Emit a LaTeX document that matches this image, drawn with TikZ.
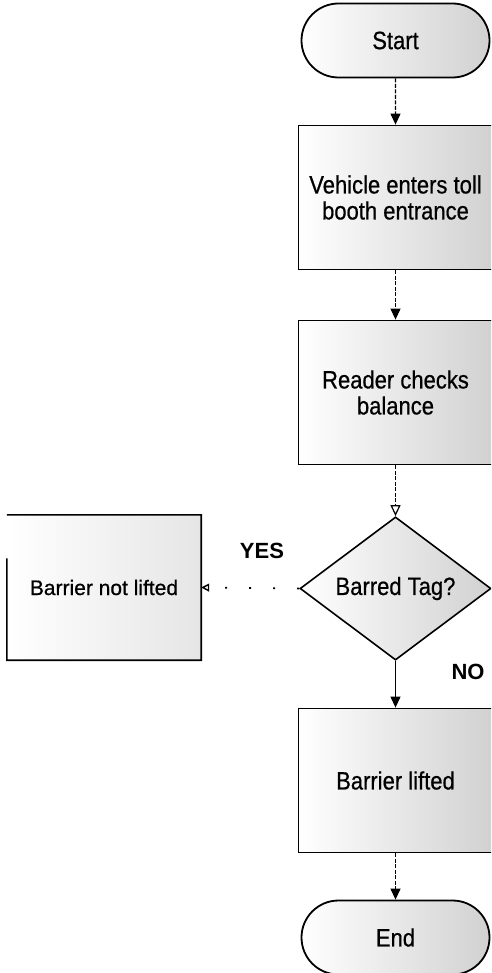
\documentclass[tikz,border=0pt]{standalone}
\usepackage{fontspec}
\setmainfont{Liberation Sans}
\newfontfamily\narrowfont[FakeStretch=0.88,FakeBold=0.6]{Liberation Sans}
\newfontfamily\plainfont[FakeBold=0.6]{Liberation Sans}
\usetikzlibrary{arrows.meta,shapes.geometric,shapes.misc,calc}
\begin{document}
\begin{tikzpicture}[x=1pt,y=-1pt,
  shade/.style={left color=white, right color=black!18},
  box/.style={rectangle, draw=black, line width=1.8pt, minimum width=194pt, minimum height=144pt, inner sep=0pt, shade},
  term/.style={rounded rectangle, draw=black, line width=1.8pt, minimum width=188pt, minimum height=74pt, inner sep=0pt, shade},
  dia/.style={diamond, draw=black, line width=1.6pt, minimum width=191pt, minimum height=142pt, inner sep=0pt, shade},
  txt/.style={font=\narrowfont\fontsize{25}{26}\selectfont, align=center, text=black},
  lbl/.style={font=\bfseries\fontsize{22}{24}\selectfont, text=black},
  flow/.style={line width=1.2pt, -{Triangle[length=11pt,width=10pt]}},
  brk/.style={dash pattern=on 4pt off 1.5pt}
]
\useasboundingbox (0,0) rectangle (491,973);
\clip (0,0) rectangle (491,973);

\node[term, txt] (start) at (395.5,40.5) {Start};
\node[box, txt] (enter) at (395.5,197.5) {Vehicle enters toll\\booth entrance};
\node[box, txt] (check) at (395.5,392.5) {Reader checks\\balance};
\node[dia, txt] (barred) at (395.5,588.5) {Barred Tag?};
\node[box, txt] (lifted) at (395.5,780.5) {Barrier lifted};
\node[term, txt] (end) at (395.5,937.5) {End};

\node[rectangle, inner sep=0pt, minimum width=194pt, minimum height=145pt,
      left color=white, right color=black!10,
      font=\plainfont\fontsize{21}{24}\selectfont, text=black] (notlifted) at (104,587.5) {Barrier not lifted};
\draw[line width=1.6pt] ($(notlifted.south west)!0.7!(notlifted.north west)$)
  -- (notlifted.south west) -- (notlifted.south east) -- (notlifted.north east) -- (notlifted.north west);

\node[lbl] (yes) at (262,551) {YES};
\node[lbl] (no) at (468,672) {NO};

\draw[flow, brk] (start) -- (enter);
\draw[flow, brk] (enter) -- (check);
\draw[line width=1.2pt, brk, -{Triangle[open,length=11pt,width=10pt]}] (check) -- (barred);
\draw[flow] (barred) -- (lifted);
\draw[flow, brk] (lifted) -- (end);
\draw[line width=1.8pt, dash pattern=on 2pt off 22pt, -{Triangle[open,length=8pt,width=8pt,line width=1.4pt]}] (barred.west) -- (notlifted.east);
\end{tikzpicture}
\end{document}
